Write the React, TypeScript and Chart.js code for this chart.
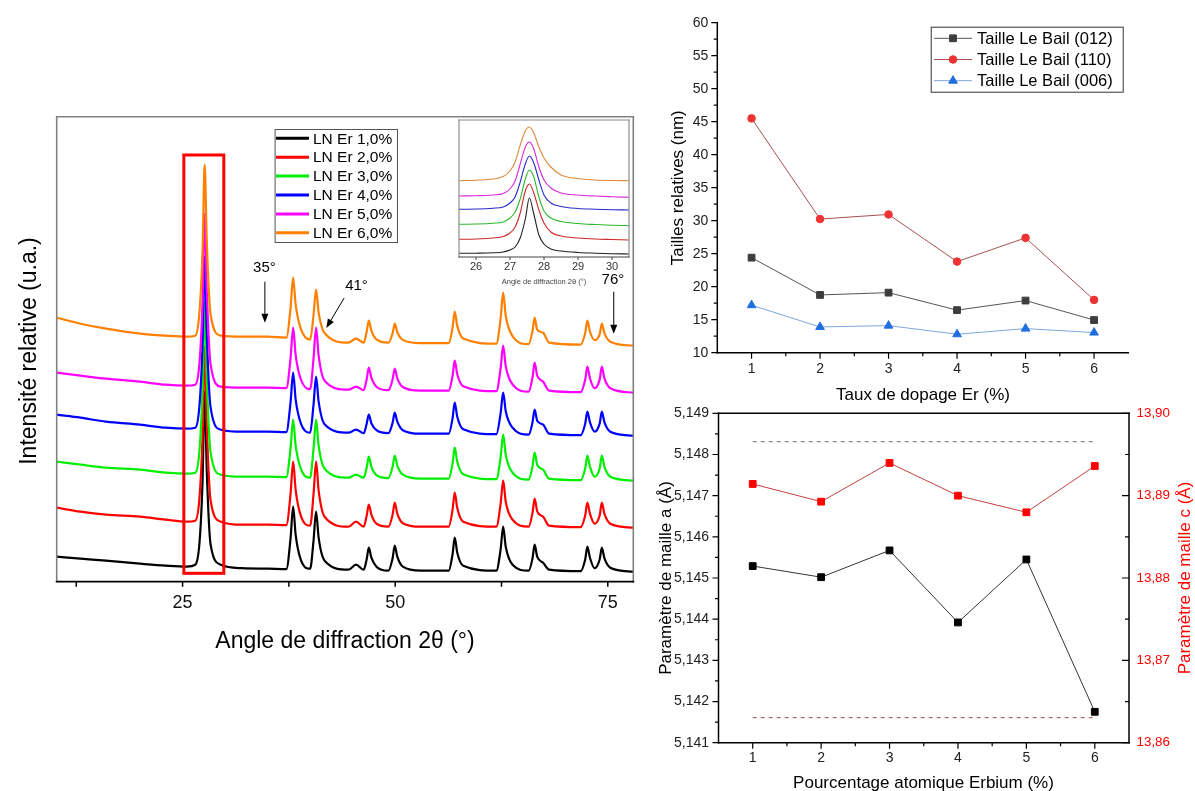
import React, { useEffect, useRef } from 'react';
import { Chart, registerables } from 'chart.js';

Chart.register(...registerables);

const FONT = "'Liberation Sans', Arial, Helvetica, sans-serif";

// ---------------- XRD patterns (main panel) ----------------
const angles = [10.2, 13, 16, 20, 23, 25.5, 26.5, 27.0, 27.35, 27.6, 27.85, 28.3, 29.5, 32, 35, 37.2, 37.7, 38.0, 38.3, 38.9, 40.0, 40.4, 40.7, 41.0, 41.7, 44.5, 45.4, 46.3, 46.65, 46.9, 47.2, 47.8, 49.2, 49.7, 49.95, 50.25, 50.9, 53, 56.3, 56.75, 57.0, 57.3, 58.0, 61.9, 62.4, 62.7, 63.0, 63.8, 65.7, 66.15, 66.4, 66.7, 67.4, 68.1, 71.8, 72.35, 72.6, 72.9, 73.45, 74.05, 74.3, 74.6, 75.3, 78];

const xrdEr1 = [25, 23, 21, 18, 16, 15, 17, 40, 101, 190, 110, 37, 17, 13.5, 13, 12.5, 43.5, 75, 46.5, 22, 13, 41, 70, 44, 21, 12, 17, 12, 22.5, 34, 24, 15, 11, 23.5, 36, 25, 15, 11, 11, 27.5, 44, 29, 16, 11, 32.5, 55, 35, 17, 11, 23.5, 37, 25, 19, 12, 10.5, 22.5, 35, 24, 13.5, 22.5, 34, 23.5, 14, 10];
const xrdEr2 = [74, 70, 67, 65, 62, 60, 61, 85, 146, 235, 155, 81, 60, 57, 57, 56.5, 88, 120, 91.5, 66, 56, 87.5, 120, 91, 65, 55, 60, 55, 66, 77, 67, 58, 55, 67, 79, 68, 58.5, 55, 55, 72, 89, 73.7, 60, 55, 78, 101, 80, 62, 55, 69, 83, 70.4, 65, 56, 54.5, 66.5, 79, 68, 58, 66.5, 79, 68, 58, 54];
const xrdEr3 = [120, 117, 114, 112, 109, 108, 109, 132.5, 193, 280, 201.5, 129, 107, 105, 105, 104.5, 133.5, 162, 136, 113, 104, 133, 162, 136, 113, 104, 107, 104, 114, 125, 115, 106.5, 103.5, 115, 126, 116, 107, 103, 103, 118.5, 134, 120, 107.5, 102.5, 124.5, 147, 127, 109, 102, 115.5, 129, 117, 112, 103, 101.5, 113.5, 126, 115, 105, 113.5, 126, 115, 105, 101];
const xrdEr4 = [167, 164, 160, 157, 154, 153, 154, 177.5, 238, 325, 246.5, 174, 152, 150, 150, 149.5, 179.5, 209, 182, 158.5, 149, 177, 205, 180, 157.5, 149, 152, 148.5, 158, 167, 158.5, 151.5, 148.5, 159, 169, 160, 151.5, 148, 148, 163.5, 179, 165, 152.5, 147.5, 168.5, 189, 170.5, 154, 147, 159.5, 172, 161, 157, 148, 146.5, 158.3, 170, 159.5, 150, 158.3, 170, 159.5, 150, 146];
const xrdEr5 = [209, 206, 203, 200, 197, 196, 197, 220, 281, 368, 290, 217, 195, 194, 194, 193.5, 223.5, 254, 226.5, 202.5, 192.5, 223, 254, 226, 201, 192, 195, 191.5, 202.5, 214, 204, 195, 191.5, 202.3, 213, 203.3, 194.7, 191, 191, 206, 221, 207.5, 195.5, 190.5, 213.5, 236, 215.5, 197.3, 190, 204.5, 219, 206, 200, 191, 189.5, 202.3, 215, 203.5, 193.5, 202.3, 215, 203.5, 193.5, 189];
const xrdEr6 = [264, 258, 253, 248, 246, 245, 246, 271, 331, 417, 340, 267, 246, 245, 245, 244, 274, 304, 277, 253, 242, 266.5, 292, 269, 248.7, 239, 243, 239, 250, 261, 251, 242.3, 239, 248.5, 258, 249.5, 241.8, 238.5, 238.5, 254.3, 270, 255.8, 243.2, 238, 263.5, 289, 266, 245.6, 237.5, 250.8, 264, 252, 249, 239, 237, 249, 261, 250.2, 241.5, 247.5, 258, 248.5, 240, 236];

const xrdLabels = ['LN Er 1,0%', 'LN Er 2,0%', 'LN Er 3,0%', 'LN Er 4,0%', 'LN Er 5,0%', 'LN Er 6,0%'];
const xrdColors = ['#000000', '#ff0000', '#00ee00', '#0000ff', '#ff00ff', '#ff8000'];
const xrdTicks = [12.5, 25, 37.5, 50, 62.5, 75];
const xrdTickLabels = ['', '25', '', '50', '', '75'];

// annotations (angle, intensity)
const zoomBox = { a0: 25.15, a1: 29.85, i0: 8.4, i1: 426.7 };
const markers = [
  { text: '35°', tx: 34.62, ty: 314, ax0: 34.68, ay0: 300, ax1: 34.68, ay1: 259 },
  { text: '41°', tx: 45.45, ty: 296, ax0: 44.0, ay0: 283.7, ax1: 41.9, ay1: 253.7 },
  { text: '76°', tx: 75.6, ty: 302, ax0: 75.7, ay0: 290, ax1: 75.7, ay1: 248 },
];

// ---------------- Inset ----------------
const insetAngles = [25.5, 26.0, 26.5, 26.8, 27.0, 27.15, 27.3, 27.45, 27.57, 27.7, 27.85, 28.0, 28.2, 28.5, 29.0, 29.5, 30.0, 30.5];
const insetEr1 = [3.7, 3.8, 4.2, 5, 7, 10, 19, 38, 59, 43, 22, 13, 8, 6, 4.5, 3.8, 3.3, 3];
const insetEr2 = [17.7, 18, 19, 20.5, 24, 30, 44, 66, 73, 64, 47, 34, 25, 21, 19, 18, 17.5, 17];
const insetEr3 = [32.7, 33, 33.8, 35, 39, 45, 58, 78, 87, 80, 60, 46, 39, 35.5, 33.5, 32.5, 31.8, 31.3];
const insetEr4 = [47.7, 48, 48.8, 50, 54, 60, 75, 93, 101, 94, 77, 62, 54, 50.5, 48.5, 47.8, 47.3, 47];
const insetEr5 = [61, 61.3, 62, 63.5, 68, 76, 93, 110, 115, 108, 90, 77, 69, 64, 62, 61, 60.3, 59.7];
const insetEr6 = [76.3, 76.8, 78, 80.5, 86, 95, 112, 126, 130, 124, 110, 99, 90, 82, 78.5, 77, 76.5, 76.3];
const insetColors = ['#222222', '#cc2a2a', '#2cb82c', '#2a2acc', '#d82ad8', '#dd8a3a'];
const insetTicks = [26, 27, 28, 29, 30];

// ---------------- Sizes (top right) ----------------
const dopage = [1, 2, 3, 4, 5, 6];
const taille012 = [24.4, 18.75, 19.1, 16.45, 17.9, 14.95];
const taille110 = [45.5, 30.25, 30.95, 23.8, 27.4, 18.0];
const taille006 = [17.2, 13.9, 14.1, 12.8, 13.65, 13.05];
const sizeYTicks = [10, 15, 20, 25, 30, 35, 40, 45, 50, 55, 60];
const sizeYMinor = [12.5, 17.5, 22.5, 27.5, 32.5, 37.5, 42.5, 47.5, 52.5, 57.5];
const dopMinor = [1.5, 2.5, 3.5, 4.5, 5.5];

// ---------------- Lattice parameters (bottom right) ----------------
const paramA = [5.14529, 5.14502, 5.14567, 5.14392, 5.14545, 5.14175];
const paramC = [13.89142, 13.88927, 13.89397, 13.89, 13.88798, 13.8936];
const refAHigh = 5.14831;
const refALow = 5.14161;
const aTicks = [5.141, 5.142, 5.143, 5.144, 5.145, 5.146, 5.147, 5.148, 5.149];
const aMinor = [5.1415, 5.1425, 5.1435, 5.1445, 5.1455, 5.1465, 5.1475, 5.1485];
const cTicks = [13.86, 13.87, 13.88, 13.89, 13.9];
const cMinor = [13.865, 13.875, 13.885, 13.895];

// ---------------- helpers ----------------
function drawMarker(ctx: any, style: string, x: number, y: number, r: number, fill: string, stroke: string) {
  ctx.fillStyle = fill;
  ctx.strokeStyle = stroke;
  ctx.lineWidth = 1;
  ctx.beginPath();
  if (style === 'rect') {
    const s = r * Math.SQRT1_2;
    ctx.rect(x - s, y - s, 2 * s, 2 * s);
  } else if (style === 'triangle') {
    for (let k = 0; k < 3; k++) {
      const a = -Math.PI / 2 + (k * 2 * Math.PI) / 3;
      const px = x + Math.cos(a) * r;
      const py = y + Math.sin(a) * r;
      if (k === 0) ctx.moveTo(px, py);
      else ctx.lineTo(px, py);
    }
    ctx.closePath();
  } else {
    ctx.arc(x, y, r, 0, Math.PI * 2);
  }
  ctx.fill();
  ctx.stroke();
}

function drawArrow(ctx: any, x0: number, y0: number, x1: number, y1: number) {
  const ang = Math.atan2(y1 - y0, x1 - x0);
  const head = 9;
  const hw = 3.5;
  ctx.beginPath();
  ctx.moveTo(x0, y0);
  ctx.lineTo(x1 - Math.cos(ang) * head * 0.7, y1 - Math.sin(ang) * head * 0.7);
  ctx.stroke();
  ctx.beginPath();
  ctx.moveTo(x1, y1);
  ctx.lineTo(x1 - head * Math.cos(ang) + hw * Math.sin(ang), y1 - head * Math.sin(ang) - hw * Math.cos(ang));
  ctx.lineTo(x1 - head * Math.cos(ang) - hw * Math.sin(ang), y1 - head * Math.sin(ang) + hw * Math.cos(ang));
  ctx.closePath();
  ctx.fill();
}

function decor(spec: any) {
  return {
    id: 'decor',
    beforeDatasetsDraw(chart: any) {
      if (!spec.bg) return;
      const ca = chart.chartArea;
      const ctx = chart.ctx;
      ctx.save();
      ctx.fillStyle = spec.bg;
      ctx.fillRect(ca.left, ca.top, ca.right - ca.left, ca.bottom - ca.top);
      ctx.restore();
    },
    afterDraw(chart: any) {
      const ctx = chart.ctx;
      const ca = chart.chartArea;
      ctx.save();
      (spec.frame || []).forEach((f: any) => {
        ctx.strokeStyle = f.color;
        ctx.lineWidth = f.width;
        const e = f.width / 2;
        ctx.beginPath();
        if (f.side === 'top') { ctx.moveTo(ca.left - e, ca.top); ctx.lineTo(ca.right + e, ca.top); }
        if (f.side === 'bottom') { ctx.moveTo(ca.left - e, ca.bottom); ctx.lineTo(ca.right + e, ca.bottom); }
        if (f.side === 'left') { ctx.moveTo(ca.left, ca.top - e); ctx.lineTo(ca.left, ca.bottom + e); }
        if (f.side === 'right') { ctx.moveTo(ca.right, ca.top - e); ctx.lineTo(ca.right, ca.bottom + e); }
        ctx.stroke();
      });
      (spec.ticks || []).forEach((t: any) => {
        const sc = chart.scales[t.scale];
        ctx.strokeStyle = t.color || '#000';
        ctx.lineWidth = t.width || 1;
        ctx.beginPath();
        t.values.forEach((v: number) => {
          const p = sc.getPixelForValue(v);
          if (sc.isHorizontal()) {
            const y0 = sc.position === 'top' ? ca.top : ca.bottom;
            const sgn = (sc.position === 'top' ? -1 : 1) * (t.dir === 'in' ? -1 : 1);
            ctx.moveTo(p, y0);
            ctx.lineTo(p, y0 + sgn * t.len);
          } else {
            const x0 = sc.position === 'right' ? ca.right : ca.left;
            const sgn = (sc.position === 'right' ? 1 : -1) * (t.dir === 'in' ? -1 : 1);
            ctx.moveTo(x0, p);
            ctx.lineTo(x0 + sgn * t.len, p);
          }
        });
        ctx.stroke();
      });
      (spec.rects || []).forEach((r: any) => {
        const xs = chart.scales.x;
        const ys = chart.scales.y;
        const x0 = xs.getPixelForValue(r.x0);
        const x1 = xs.getPixelForValue(r.x1);
        const y0 = ys.getPixelForValue(r.y0);
        const y1 = ys.getPixelForValue(r.y1);
        ctx.strokeStyle = r.color;
        ctx.lineWidth = r.width;
        ctx.strokeRect(x0, y1, x1 - x0, y0 - y1);
      });
      (spec.arrows || []).forEach((a: any) => {
        const xs = chart.scales.x;
        const ys = chart.scales.y;
        ctx.strokeStyle = '#000';
        ctx.fillStyle = '#000';
        ctx.lineWidth = 1;
        drawArrow(ctx, xs.getPixelForValue(a.ax0), ys.getPixelForValue(a.ay0), xs.getPixelForValue(a.ax1), ys.getPixelForValue(a.ay1));
        ctx.font = `${a.size}px ${FONT}`;
        ctx.textAlign = 'center';
        ctx.textBaseline = 'middle';
        ctx.fillText(a.text, xs.getPixelForValue(a.tx), ys.getPixelForValue(a.ty));
      });
      if (spec.legend) {
        const L = spec.legend;
        ctx.fillStyle = '#ffffff';
        ctx.fillRect(L.x, L.y, L.w, L.h);
        ctx.strokeStyle = L.border;
        ctx.lineWidth = 1;
        ctx.strokeRect(L.x + 0.5, L.y + 0.5, L.w, L.h);
        chart.data.datasets.forEach((ds: any, i: number) => {
          if (!ds.label) return;
          const yy = L.firstY + i * L.rowH;
          ctx.strokeStyle = ds.borderColor;
          ctx.lineWidth = L.lineWidth;
          ctx.beginPath();
          ctx.moveTo(L.s0, yy);
          ctx.lineTo(L.s1, yy);
          ctx.stroke();
          if (L.markers && ds.pointStyle) {
            drawMarker(ctx, ds.pointStyle, (L.s0 + L.s1) / 2, yy, ds.pointRadius, ds.pointBackgroundColor, ds.pointBorderColor);
          }
          ctx.fillStyle = '#000';
          ctx.font = `${L.size}px ${FONT}`;
          ctx.textAlign = 'left';
          ctx.textBaseline = 'middle';
          ctx.fillText(ds.label, L.textX, yy + 1);
        });
      }
      (spec.texts || []).forEach((t: any) => {
        ctx.save();
        ctx.translate(t.x, t.y);
        if (t.rot) ctx.rotate((t.rot * Math.PI) / 180);
        ctx.font = `${t.size}px ${FONT}`;
        ctx.fillStyle = t.color || '#000';
        ctx.textAlign = 'center';
        ctx.textBaseline = t.baseline || 'middle';
        ctx.fillText(t.text, 0, 0);
        ctx.restore();
      });
      ctx.restore();
    },
  };
}

const noGrid = { display: false, drawTicks: false };
const noBorder = { display: false };

function fixedTicks(values: number[]) {
  return (s: any) => {
    s.ticks = values.map((v) => ({ value: v }));
  };
}

// ---------------- configs ----------------
function xrdConfig(): any {
  const series = [xrdEr1, xrdEr2, xrdEr3, xrdEr4, xrdEr5, xrdEr6];
  return {
    type: 'line',
    data: {
      datasets: series.map((s, i) => ({
        label: xrdLabels[i],
        data: angles.map((a, j) => ({ x: a, y: s[j] })),
        borderColor: xrdColors[i],
        borderWidth: 2.2,
        pointRadius: 0,
        cubicInterpolationMode: 'monotone',
        order: series.length - 1 - i,
      })),
    },
    options: {
      responsive: false,
      animation: false,
      events: [],
      layout: { padding: { left: 0, top: 16.7, right: 11.7, bottom: 0 } },
      plugins: { legend: { display: false }, tooltip: { enabled: false } },
      scales: {
        x: {
          type: 'linear', min: 10.2, max: 78,
          afterBuildTicks: fixedTicks(xrdTicks),
          afterFit: (s: any) => { s.height = 78.3; },
          grid: noGrid, border: noBorder,
          ticks: {
            padding: 10.5, color: '#111', maxRotation: 0, autoSkip: false,
            font: { family: FONT, size: 18 },
            callback: (v: number) => xrdTickLabels[xrdTicks.indexOf(v)] ?? '',
          },
        },
        y: {
          type: 'linear', min: 0, max: 465,
          afterFit: (s: any) => { s.width = 56.7; },
          grid: noGrid, border: noBorder, ticks: { display: false },
        },
      },
    },
    plugins: [decor({
      frame: [
        { side: 'top', color: '#808080', width: 1.6 },
        { side: 'left', color: '#808080', width: 1.6 },
        { side: 'right', color: '#808080', width: 1.6 },
        { side: 'bottom', color: '#000000', width: 1.8 },
      ],
      ticks: [{ scale: 'x', values: xrdTicks, len: 5, dir: 'out', width: 1.5 }],
      rects: [{ x0: zoomBox.a0, x1: zoomBox.a1, y0: zoomBox.i0, y1: zoomBox.i1, color: '#ff0000', width: 3 }],
      arrows: markers.map((m) => ({ ...m, size: 15 })),
      legend: { x: 274.6, y: 29, w: 122.4, h: 113, firstY: 38.3, rowH: 18.9, s0: 276, s1: 309, textX: 313, size: 15.5, lineWidth: 3, border: '#555555' },
      texts: [
        { text: 'Angle de diffraction 2θ (°)', x: 345, y: 548, size: 23, baseline: 'alphabetic' },
        { text: 'Intensité relative (u.a.)', x: 30, y: 251, size: 23, rot: -90 },
      ],
    })],
  };
}

function insetConfig(): any {
  const series = [insetEr1, insetEr2, insetEr3, insetEr4, insetEr5, insetEr6];
  return {
    type: 'line',
    data: {
      datasets: series.map((s, i) => ({
        data: insetAngles.map((a, j) => ({ x: a, y: s[j] })),
        borderColor: insetColors[i],
        borderWidth: 1.1,
        pointRadius: 0,
        cubicInterpolationMode: 'monotone',
      })),
    },
    options: {
      responsive: false,
      animation: false,
      events: [],
      layout: { padding: { left: 0, top: 10, right: 11, bottom: 0 } },
      plugins: { legend: { display: false }, tooltip: { enabled: false } },
      scales: {
        x: {
          type: 'linear', min: 25.5, max: 30.5,
          afterBuildTicks: fixedTicks(insetTicks),
          afterFit: (s: any) => { s.height = 38; },
          grid: noGrid, border: noBorder,
          ticks: { padding: 3, color: '#333', maxRotation: 0, autoSkip: false, font: { family: FONT, size: 11 }, callback: (v: number) => String(v) },
        },
        y: {
          type: 'linear', min: 0, max: 137,
          afterFit: (s: any) => { s.width = 19; },
          grid: noGrid, border: noBorder, ticks: { display: false },
        },
      },
    },
    plugins: [decor({
      bg: '#ffffff',
      frame: [
        { side: 'top', color: '#8a8a8a', width: 1.2 },
        { side: 'left', color: '#8a8a8a', width: 1.2 },
        { side: 'right', color: '#8a8a8a', width: 1.2 },
        { side: 'bottom', color: '#444444', width: 1.2 },
      ],
      ticks: [{ scale: 'x', values: insetTicks, len: 3, dir: 'out', width: 1, color: '#444' }],
      texts: [{ text: 'Angle de diffraction 2θ (°)', x: 104, y: 172, size: 7.5, color: '#444' }],
    })],
  };
}

function sizeConfig(): any {
  const mk = (label: string, vals: number[], line: string, fill: string, style: string, r: number) => ({
    label,
    data: dopage.map((d, i) => ({ x: d, y: vals[i] })),
    borderColor: line,
    borderWidth: 1,
    pointStyle: style,
    pointRadius: r,
    pointBackgroundColor: fill,
    pointBorderColor: fill,
    pointBorderWidth: 1,
  });
  return {
    type: 'line',
    data: {
      datasets: [
        mk('Taille Le Bail (012)', taille012, '#555555', '#3d3d3d', 'rect', 4.8),
        mk('Taille Le Bail (110)', taille110, '#a85050', '#ee3333', 'circle', 3.8),
        mk('Taille Le Bail (006)', taille006, '#7ea3dc', '#1f6fe0', 'triangle', 5),
      ],
    },
    options: {
      responsive: false,
      animation: false,
      events: [],
      layout: { padding: { left: 0, top: 22.7, right: 66.7, bottom: 0 } },
      plugins: { legend: { display: false }, tooltip: { enabled: false } },
      scales: {
        x: {
          type: 'linear', min: 0.5, max: 6.5,
          afterBuildTicks: fixedTicks(dopage),
          afterFit: (s: any) => { s.height = 57.3; },
          grid: noGrid, border: noBorder,
          ticks: { padding: 8, color: '#222', maxRotation: 0, autoSkip: false, font: { family: FONT, size: 14 }, callback: (v: number) => String(v) },
        },
        y: {
          type: 'linear', min: 10, max: 60,
          afterBuildTicks: fixedTicks(sizeYTicks),
          afterFit: (s: any) => { s.width = 67.3; },
          grid: noGrid, border: noBorder,
          ticks: { padding: 9, color: '#222', font: { family: FONT, size: 14 }, callback: (v: number) => String(v) },
        },
      },
    },
    plugins: [decor({
      frame: [
        { side: 'left', color: '#000', width: 1.5 },
        { side: 'bottom', color: '#000', width: 1.5 },
      ],
      ticks: [
        { scale: 'x', values: dopage, len: 6, dir: 'out', width: 1.2 },
        { scale: 'x', values: dopMinor, len: 3.5, dir: 'out', width: 1.2 },
        { scale: 'y', values: sizeYTicks, len: 6, dir: 'out', width: 1.2 },
        { scale: 'y', values: sizeYMinor, len: 3.5, dir: 'out', width: 1.2 },
      ],
      legend: { x: 280.7, y: 26.7, w: 192, h: 65, firstY: 38.3, rowH: 21.2, s0: 284, s1: 322, textX: 327, size: 16.5, lineWidth: 1, border: '#333333', markers: true },
      texts: [
        { text: 'Tailles relatives (nm)', x: 28, y: 187.7, size: 17, rot: -90 },
        { text: 'Taux de dopage Er (%)', x: 273, y: 395, size: 17 },
      ],
    })],
  };
}

function latticeConfig(): any {
  const comma = (v: number, d: number) => v.toFixed(d).replace('.', ',');
  return {
    type: 'line',
    data: {
      datasets: [
        {
          data: dopage.map((d) => ({ x: d, y: refAHigh })),
          yAxisID: 'y', borderColor: '#8c8c8c', borderWidth: 1.2, borderDash: [4, 4], pointRadius: 0,
        },
        {
          data: dopage.map((d) => ({ x: d, y: refALow })),
          yAxisID: 'y', borderColor: '#b06a6a', borderWidth: 1.2, borderDash: [4, 4], pointRadius: 0,
        },
        {
          data: dopage.map((d, i) => ({ x: d, y: paramA[i] })),
          yAxisID: 'y', borderColor: '#333333', borderWidth: 1, pointStyle: 'rect', pointRadius: 4.8,
          pointBackgroundColor: '#000', pointBorderColor: '#000',
        },
        {
          data: dopage.map((d, i) => ({ x: d, y: paramC[i] })),
          yAxisID: 'y2', borderColor: '#c04040', borderWidth: 1, pointStyle: 'rect', pointRadius: 4.8,
          pointBackgroundColor: '#ff0000', pointBorderColor: '#ff0000',
        },
      ],
    },
    options: {
      responsive: false,
      animation: false,
      events: [],
      layout: { padding: { left: 0, top: 23.3, right: 0, bottom: 0 } },
      plugins: { legend: { display: false }, tooltip: { enabled: false } },
      scales: {
        x: {
          type: 'linear', min: 0.5, max: 6.5,
          afterBuildTicks: fixedTicks(dopage),
          afterFit: (s: any) => { s.height = 48.3; },
          grid: noGrid, border: noBorder,
          ticks: { padding: 7.2, color: '#222', maxRotation: 0, autoSkip: false, font: { family: FONT, size: 14 }, callback: (v: number) => String(v) },
        },
        y: {
          type: 'linear', position: 'left', min: 5.141, max: 5.149,
          afterBuildTicks: fixedTicks(aTicks),
          afterFit: (s: any) => { s.width = 68.5; },
          grid: noGrid, border: noBorder,
          ticks: { padding: 9.5, color: '#222', font: { family: FONT, size: 14 }, callback: (v: number) => comma(v, 3) },
        },
        y2: {
          type: 'linear', position: 'right', min: 13.86, max: 13.9,
          afterBuildTicks: fixedTicks(cTicks),
          afterFit: (s: any) => { s.width = 66; },
          grid: noGrid, border: noBorder,
          ticks: { padding: 7.5, color: '#ff0000', font: { family: FONT, size: 13.4 }, callback: (v: number) => comma(v, 2) },
        },
      },
    },
    plugins: [decor({
      frame: [
        { side: 'left', color: '#000', width: 1.5 },
        { side: 'bottom', color: '#000', width: 1.5 },
        { side: 'right', color: '#000', width: 1.5 },
        { side: 'top', color: '#000', width: 1.5 },
      ],
      ticks: [
        { scale: 'x', values: dopage, len: 6, dir: 'out', width: 1.2 },
        { scale: 'x', values: dopMinor, len: 3.5, dir: 'out', width: 1.2 },
        { scale: 'y', values: aTicks, len: 6, dir: 'out', width: 1.2 },
        { scale: 'y', values: aMinor, len: 3.5, dir: 'out', width: 1.2 },
        { scale: 'y2', values: cTicks, len: 7, dir: 'in', width: 1.2 },
        { scale: 'y2', values: cMinor, len: 4, dir: 'in', width: 1.2 },
      ],
      texts: [
        { text: 'Paramètre de maille a (Å)', x: 16, y: 188, size: 17, rot: -90 },
        { text: 'Paramètre de maille c (Å)', x: 535, y: 188, size: 17, rot: -90, color: '#ff0000' },
        { text: 'Pourcentage atomique Erbium (%)', x: 273.5, y: 393, size: 17 },
      ],
    })],
  };
}

function ChartBox({ make, left, top, width, height }: { make: () => any; left: number; top: number; width: number; height: number }) {
  const ref = useRef<HTMLCanvasElement>(null);
  useEffect(() => {
    const chart = new Chart(ref.current as HTMLCanvasElement, make());
    return () => chart.destroy();
  }, [make]);
  return (
    <canvas
      ref={ref}
      width={width}
      height={height}
      style={{ position: 'absolute', left, top, width, height }}
    />
  );
}

export default function App() {
  return (
    <div style={{ position: 'absolute', left: 0, top: 0, width: 1195, height: 791, background: '#ffffff', overflow: 'hidden' }}>
      <ChartBox make={xrdConfig} left={0} top={100} width={645} height={560} />
      <ChartBox make={insetConfig} left={440} top={110} width={200} height={185} />
      <ChartBox make={sizeConfig} left={650} top={0} width={545} height={410} />
      <ChartBox make={latticeConfig} left={650} top={390} width={545} height={401} />
    </div>
  );
}
